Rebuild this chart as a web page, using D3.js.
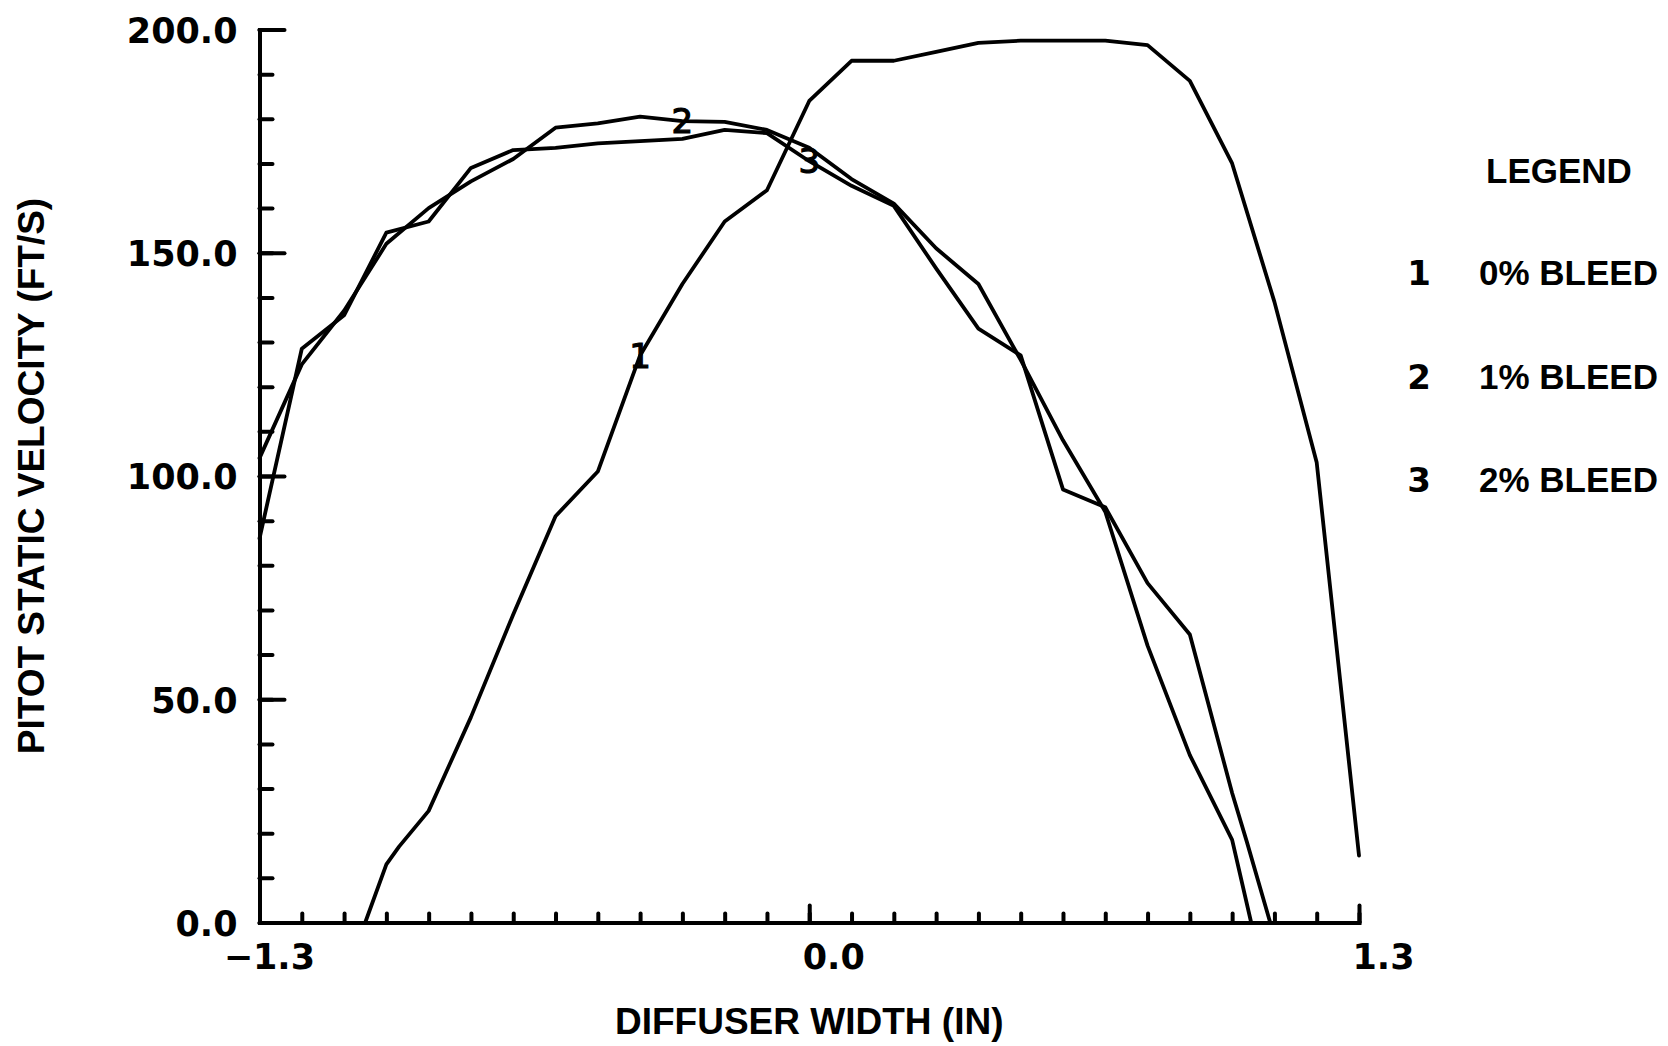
<!DOCTYPE html>
<html>
<head>
<meta charset="utf-8">
<script src="https://cdn.jsdelivr.net/npm/d3@7"></script>
<style>
  html, body { margin: 0; padding: 0; background: #fff; }
  svg { display: block; }
</style>
</head>
<body>
<svg id="chart" width="1668" height="1046"></svg>
<script>
// ---------------- data ----------------
const xTicksMinor = d3.range(-13, 14).map(d => d / 10);
const xTicksMajor = [-1.3, 0, 1.3];
const yTicksMinor = d3.range(0, 201, 10);
const yTicksMajor = [0, 50, 100, 150, 200];

// series 1 : 0% bleed  [diffuser width (in), velocity (ft/s)]
const bleed0 = [
  [-1.05, 0], [-1.0, 13], [-0.97, 17], [-0.9, 25], [-0.8, 46], [-0.7, 69],
  [-0.6, 91], [-0.5, 101], [-0.4, 127], [-0.3, 143], [-0.2, 157], [-0.1, 164],
  [0.0, 184], [0.1, 193], [0.2, 193], [0.3, 195], [0.4, 197], [0.5, 197.5],
  [0.6, 197.5], [0.7, 197.5], [0.8, 196.5], [0.9, 188.5], [1.0, 170],
  [1.1, 139], [1.2, 103], [1.3, 15]
];
// series 2 : 1% bleed
const bleed1 = [
  [-1.3, 104], [-1.2, 125], [-1.1, 137], [-1.0, 152], [-0.9, 160], [-0.8, 166],
  [-0.7, 171], [-0.6, 178], [-0.5, 179], [-0.4, 180.5], [-0.3, 179.5],
  [-0.2, 179.3], [-0.1, 177.5], [0.0, 173.5], [0.1, 166.5], [0.2, 161],
  [0.3, 151], [0.4, 143], [0.5, 126], [0.6, 108], [0.7, 92], [0.8, 62],
  [0.9, 37.5], [1.0, 18.5], [1.045, 0]
];
// series 3 : 2% bleed
const bleed2 = [
  [-1.3, 86], [-1.2, 128.5], [-1.1, 136], [-1.0, 154.5], [-0.9, 157], [-0.8, 169],
  [-0.7, 173], [-0.6, 173.5], [-0.5, 174.5], [-0.4, 175], [-0.3, 175.5],
  [-0.2, 177.5], [-0.1, 176.8], [0.0, 170.5], [0.1, 165], [0.2, 160.5],
  [0.3, 146.5], [0.4, 133], [0.5, 127], [0.6, 97], [0.7, 93], [0.8, 76],
  [0.9, 64.5], [1.0, 29], [1.035, 18], [1.09, 0]
];
const seriesNames = ["1", "2", "3"];
const legendLabels = ["0% BLEED", "1% BLEED", "2% BLEED"];
const labelIndex = [8, 10, 13];   // data point that carries the curve number

const xTitle = "DIFFUSER WIDTH (IN)";
const yTitle = "PITOT STATIC VELOCITY (FT/S)";

// ---------------- layout ----------------
const svg = d3.select("#chart");
svg.append("rect").attr("width", 1668).attr("height", 1046).attr("fill", "#fff");

const x = d3.scaleLinear().domain([-1.3, 1.3]).range([259.5, 1359]);
const y = d3.scaleLinear().domain([0, 200]).range([922.5, 29.5]);

const numFont = "'DejaVu Sans', sans-serif";
const txtFont = "'Liberation Sans', Arial, sans-serif";
const AX_W = 4;

// ----- y axis -----
const gy = svg.append("g").attr("transform", `translate(${x.range()[0]},0)`);
gy.call(d3.axisLeft(y).tickValues(yTicksMinor).tickSize(-13).tickSizeOuter(0).tickFormat(""));
gy.selectAll(".domain").remove();
const gy2 = svg.append("g").attr("transform", `translate(${x.range()[0]},0)`);
gy2.call(d3.axisLeft(y).tickValues(yTicksMajor).tickSize(-25).tickSizeOuter(0)
  .tickPadding(22).tickFormat(d3.format(".1f")));
gy2.selectAll("text")
  .attr("font-family", numFont).attr("font-weight", "bold").attr("font-size", 35)
  .attr("fill", "#000").attr("dy", "0.365em");

// ----- x axis -----
const gx = svg.append("g").attr("transform", `translate(0,${y.range()[0]})`);
gx.call(d3.axisBottom(x).tickValues(xTicksMinor).tickSize(-9).tickSizeOuter(0).tickFormat(""));
gx.selectAll(".domain").remove();
const gx2 = svg.append("g").attr("transform", `translate(0,${y.range()[0]})`);
gx2.call(d3.axisBottom(x).tickValues(xTicksMajor).tickSize(-17).tickSizeOuter(0)
  .tickPadding(21.5).tickFormat(d => d === 0 ? "0.0" : d3.format(".1f")(d)));
gx2.selectAll("text")
  .attr("font-family", numFont).attr("font-weight", "bold").attr("font-size", 35)
  .attr("fill", "#000").attr("text-anchor", "start").attr("x", -7);
// hang the minus sign to the left of the tick so the digits start at the tick
gx2.selectAll("text").each(function () {
  const t = d3.select(this);
  if (t.text().startsWith("\u2212")) {
    const tmp = svg.append("text").attr("font-family", numFont).attr("font-weight", "bold")
      .attr("font-size", 35).text("\u2212");
    const w = tmp.node().getComputedTextLength();
    tmp.remove();
    t.attr("dx", -w);
  }
});

[gy, gy2, gx, gx2].forEach(g => {
  g.selectAll("line").attr("stroke", "#000").attr("stroke-width", AX_W).attr("stroke-linecap", "round");
  g.selectAll(".domain").attr("stroke", "#000").attr("stroke-width", AX_W).attr("stroke-linecap", "square");
});

// ----- axis titles -----
svg.append("text")
  .attr("x", d3.mean(x.range())).attr("y", 1034)
  .attr("text-anchor", "middle")
  .attr("font-family", txtFont).attr("font-weight", "bold").attr("font-size", 37)
  .attr("fill", "#000").text(xTitle);
svg.append("text")
  .attr("transform", `translate(44,${d3.mean(y.range())}) rotate(-90)`)
  .attr("text-anchor", "middle")
  .attr("font-family", txtFont).attr("font-weight", "bold").attr("font-size", 37)
  .attr("fill", "#000").text(yTitle);

// ----- curves -----
const line = d3.line().x(d => x(d[0])).y(d => y(d[1]));
const allSeries = [bleed0, bleed1, bleed2];
svg.append("g").selectAll("path").data(allSeries).join("path")
  .attr("d", line)
  .attr("fill", "none").attr("stroke", "#000").attr("stroke-width", 3.8)
  .attr("stroke-linejoin", "round").attr("stroke-linecap", "round");

// curve numbers on the lines
svg.append("g").selectAll("text").data(allSeries).join("text")
  .attr("x", (d, i) => x(d[labelIndex[i]][0]))
  .attr("y", (d, i) => y(d[labelIndex[i]][1]))
  .attr("dy", "0.36em")
  .attr("text-anchor", "middle")
  .attr("font-family", numFont).attr("font-size", 34).attr("fill", "#000")
  .attr("stroke", "#000").attr("stroke-width", 1.2)
  .text((d, i) => seriesNames[i]);

// ----- legend -----
const lg = svg.append("g");
lg.append("text").attr("x", 1486).attr("y", 183)
  .attr("font-family", txtFont).attr("font-weight", "bold").attr("font-size", 35)
  .attr("fill", "#000").text("LEGEND");
const rowY = d3.scaleLinear().domain([0, 2]).range([285, 492]);
const rows = lg.selectAll("g.row").data(legendLabels).join("g").attr("class", "row")
  .attr("transform", (d, i) => `translate(0,${rowY(i)})`);
rows.append("text").attr("x", 1419).attr("text-anchor", "middle")
  .attr("font-family", numFont).attr("font-weight", "bold").attr("font-size", 34)
  .attr("fill", "#000").text((d, i) => seriesNames[i]);
rows.append("text").attr("x", 1479)
  .attr("font-family", txtFont).attr("font-weight", "bold").attr("font-size", 35)
  .attr("fill", "#000").text(d => d);
</script>
</body>
</html>
